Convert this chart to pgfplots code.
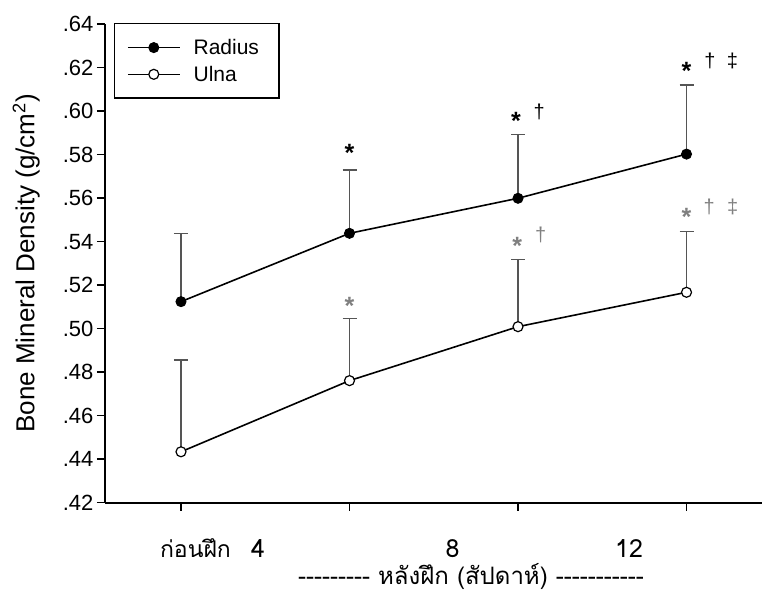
\documentclass[border=0pt]{standalone}
\usepackage{fontspec}
\setmainfont{Liberation Sans}
\newfontfamily\thaifont[Script=Thai]{Loma}
\usepackage{pgfplots}
\pgfplotsset{compat=1.18}
\definecolor{errgray}{RGB}{85,85,85}
\definecolor{stargray}{RGB}{128,128,128}
\newcommand\tklab[1]{\hbox{\fontsize{22}{26}\selectfont #1}}
\newcommand\legtxt[1]{\hbox to 71pt{\fontsize{21}{25}\selectfont #1\hfil}}

\pgfplotstableread{
x y e
0 0.5124 0.0314
1 0.5438 0.0291
2 0.5599 0.0292
3 0.5802 0.0318
}\radius
\pgfplotstableread{
x y e
0 0.4434 0.0422
1 0.4761 0.0286
2 0.5009 0.0310
3 0.5167 0.0278
}\ulna

\begin{document}
\begin{tikzpicture}
\begin{axis}[
    at={(105pt,91.3pt)}, anchor=south west,
    scale only axis, width=657pt, height=478.7pt,
    xmin=-0.451, xmax=3.448, ymin=0.42, ymax=0.64,
    axis x line=bottom, axis y line=left,
    axis line style={-, line width=1.6pt},
    xtick={0,1,2,3}, xticklabels={},
    ytick={0.42,0.44,0.46,0.48,0.50,0.52,0.54,0.56,0.58,0.60,0.62,0.64},
    yticklabels={\tklab{.42},\tklab{.44},\tklab{.46},\tklab{.48},\tklab{.50},\tklab{.52},\tklab{.54},\tklab{.56},\tklab{.58},\tklab{.60},\tklab{.62},\tklab{.64}},
    tick align=outside, major tick length=8pt,
    tick style={line width=1.4pt, black},
    ylabel={Bone Mineral Density (g/cm\textsuperscript{2})},
    ylabel style={at={(rel axis cs:-0.120,0.5)}, anchor=center, font=\fontsize{26}{30}\selectfont},
    clip=false,
    legend cell align=left,
    legend style={at={(rel axis cs:0.0137,1.002)}, anchor=north west,
        draw=black, line width=1.4pt, fill=white,
        inner xsep=12.3pt, inner ysep=13.5pt,
        row sep=6pt, /tikz/column sep=11pt},
    legend image code/.code={
        \draw[mark repeat=2, mark phase=2, #1] plot coordinates {(0pt,0pt) (26pt,0pt) (52pt,0pt)};
    },
    error bars/y dir=plus, error bars/y explicit,
    error bars/error bar style={errgray, line width=1.4pt},
    error bars/error mark options={rotate=90, mark size=7pt, errgray, line width=1.4pt},
]
\addplot[black, line width=1.6pt, mark=*, mark size=5pt, mark options={fill=black, draw=black, line width=1pt}]
    table[x=x, y=y, y error=e] {\radius};
\addplot[black, line width=1.6pt, mark=*, mark size=5pt, mark options={fill=white, draw=black, line width=1.2pt}]
    table[x=x, y=y, y error=e] {\ulna};
\legend{\legtxt{Radius}, \legtxt{Ulna}}

% significance marks
\tikzset{star/.style={anchor=base, font=\bfseries\fontsize{25}{30}\selectfont},
         dag/.style={anchor=base, font=\fontsize{20}{24}\selectfont}}
\node[star] at (axis cs:1.0,0.5767) {*};
\node[star] at (axis cs:1.988,0.5913) {*};
\node[dag] at (axis cs:2.125,0.5965) {†};
\node[star] at (axis cs:3.0,0.6143) {*};
\node[dag] at (axis cs:3.139,0.6200) {†};
\node[dag] at (axis cs:3.272,0.6198) {‡};
\node[star, text=stargray] at (axis cs:1.0,0.5066) {*};
\node[star, text=stargray] at (axis cs:1.996,0.5342) {*};
\node[dag, text=stargray] at (axis cs:2.135,0.5399) {†};
\node[star, text=stargray] at (axis cs:3.0,0.5476) {*};
\node[dag, text=stargray] at (axis cs:3.135,0.5531) {†};
\node[dag, text=stargray] at (axis cs:3.274,0.5531) {‡};

% x labels
\tikzset{thai/.style={anchor=base, font=\thaifont\fontsize{23}{27}\selectfont},
         wk/.style={anchor=base, font=\thaifont\fontsize{25}{29}\selectfont}}
\node[thai] at (axis cs:0.086,0.3950) {ก่อนฝึก};
\node[wk] at (axis cs:0.457,0.3950) {4};
\node[wk] at (axis cs:1.611,0.3950) {8};
\node[wk] at (axis cs:2.659,0.3950) {12};
\node[anchor=base, font=\thaifont\fontsize{24}{28}\selectfont] at (axis cs:1.721,0.3825)
    {-{}-{}-{}-{}-{}-{}-{}-{}- หลังฝึก (สัปดาห์) -{}-{}-{}-{}-{}-{}-{}-{}-{}-{}-};
\end{axis}
\pgfresetboundingbox
\useasboundingbox (0,0) rectangle (762pt,594pt);
\end{tikzpicture}
\end{document}
